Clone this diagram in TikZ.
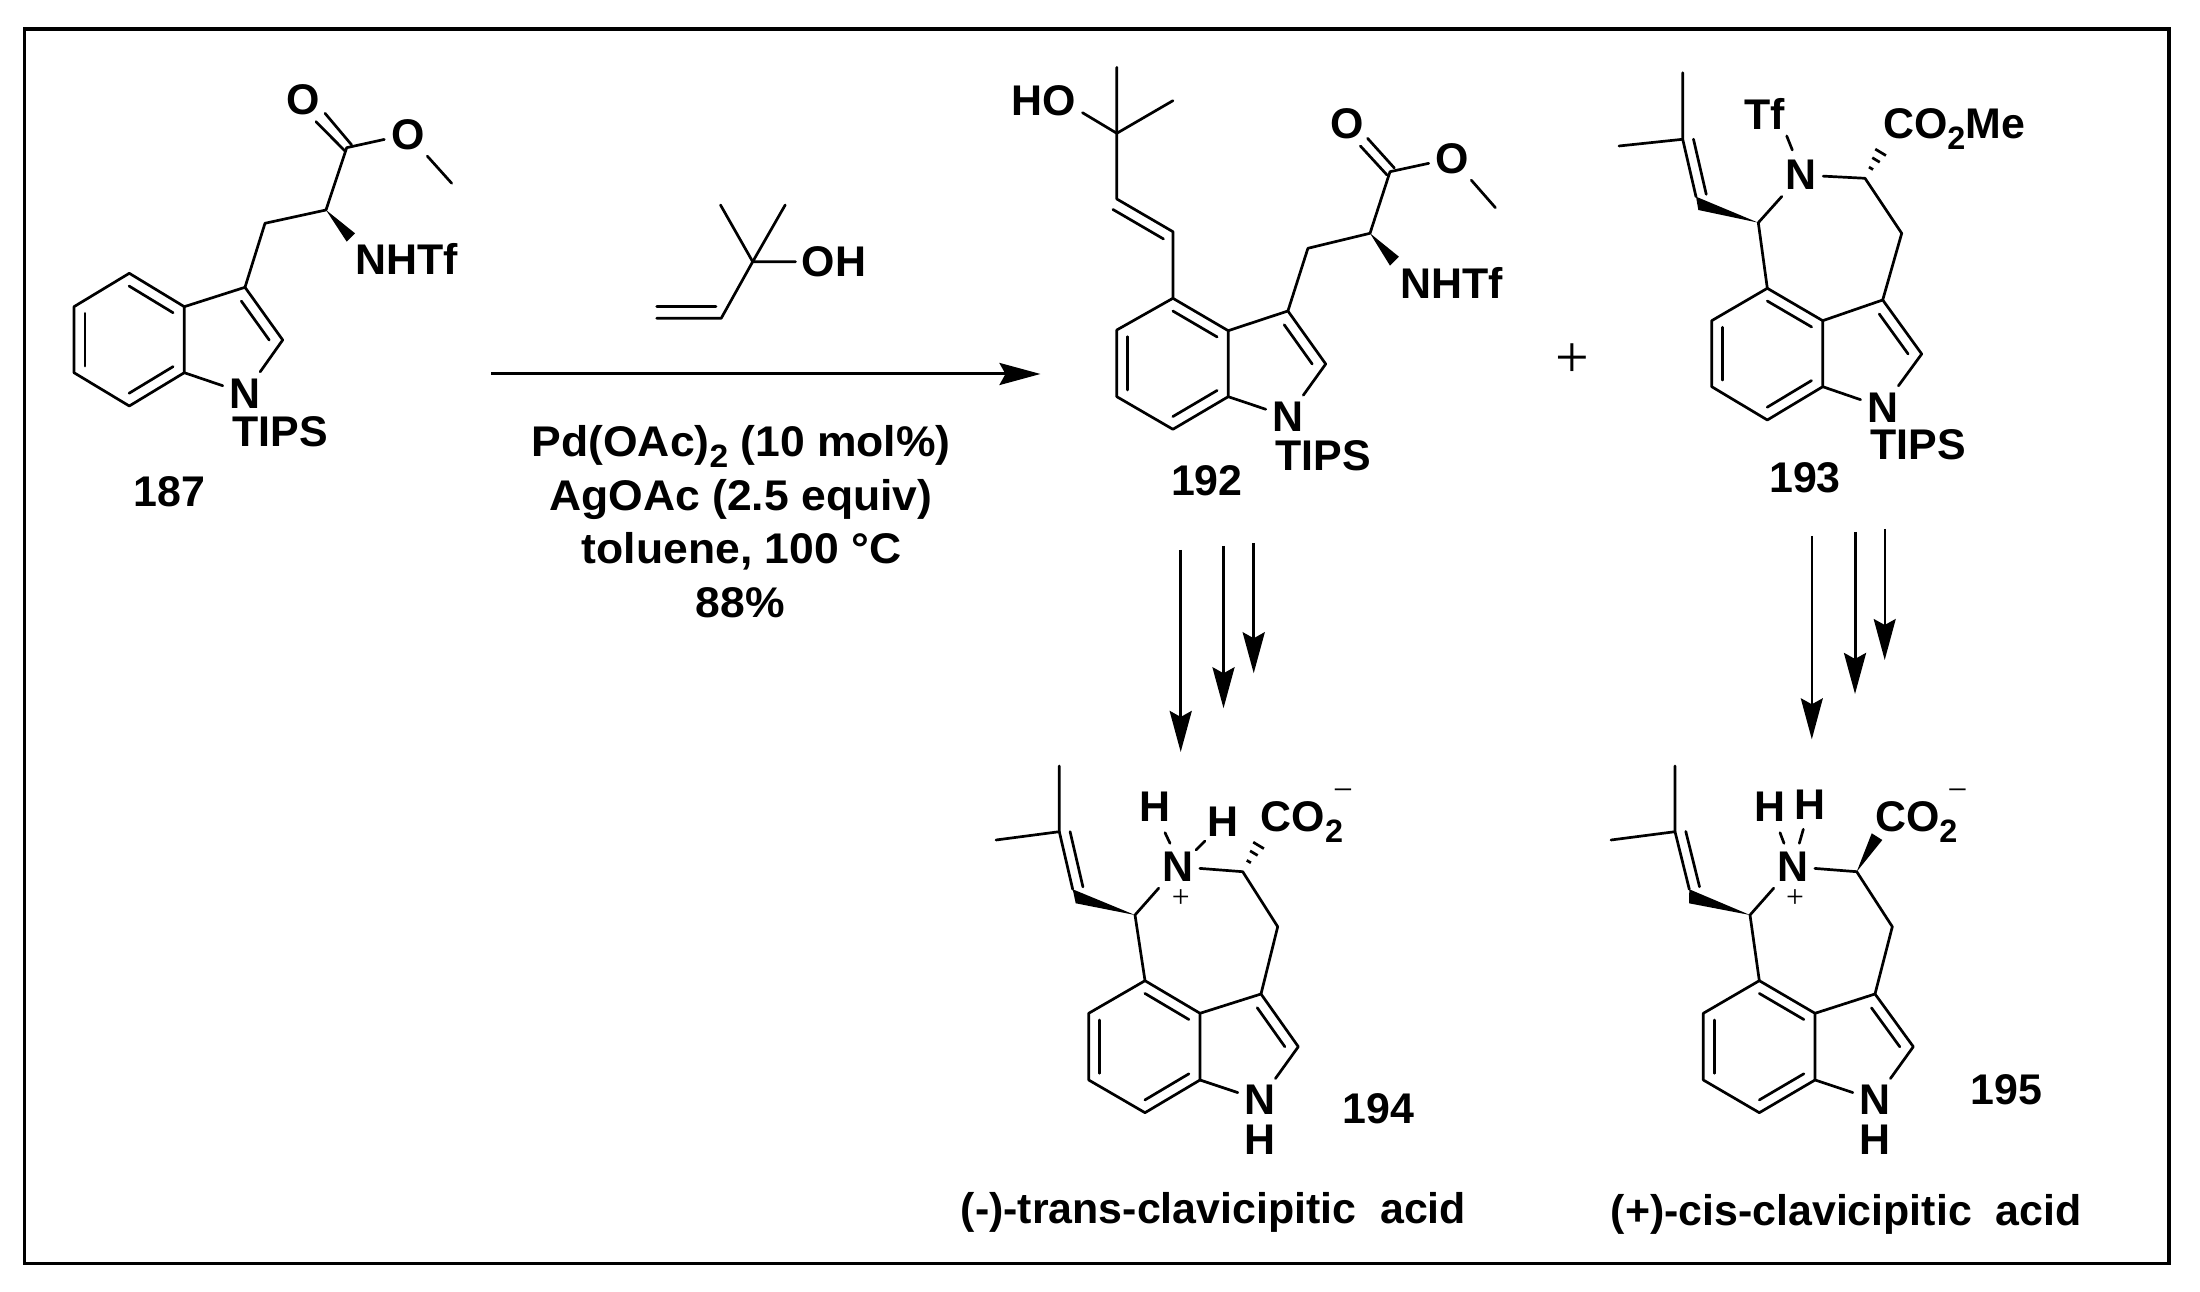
\documentclass[tikz,border=0pt]{standalone}
\usepackage{fontspec}
\setmainfont{Liberation Sans}
\newfontfamily\thinfont{Liberation Serif}
\usetikzlibrary{calc,arrows.meta}
\tikzset{
  bond/.style={line width=.027cm,line cap=round,line join=round},
  frameline/.style={line width=.032cm,line join=miter},
  lbl/.style={font=\bfseries\fontsize{12.2}{14}\selectfont,inner sep=0pt},
  atomlbl/.style={lbl,inner sep=.06cm},
  arr/.style={line width=#1,-{Stealth[length=.41cm,width=.22cm,inset=.06cm]}},
  arr/.default=.03cm,
  plusbig/.style={font=\thinfont\fontsize{17}{17}\selectfont,inner sep=0pt},
  plussmall/.style={font=\thinfont\fontsize{9}{9}\selectfont,inner sep=0pt},
  minussign/.style={font=\thinfont\fontsize{10}{10}\selectfont,inner sep=0pt},
}
\newcommand\sbt[1]{\raisebox{-.26em}{\fontsize{9.2}{9.2}\selectfont #1}}
\newcommand\wider[1]{\scalebox{1.037}[1]{#1}}
% inner line of a double bond: from a to b, offset to the left, trims at both ends
\newcommand\dbline[5]{\draw[bond] ($(#1)!#4!(#2)!#3!90:(#2)$) -- ($(#2)!#5!(#1)!#3!-90:(#1)$);}
\newcommand\indole[1]{%
  \draw[bond] (#1a)--(#1b)--(#1c)--(#1d)--(#1e)--(#1f)--cycle;
  \draw[bond] (#1f)--(#1ct)--(#1cu)--(#1n);
  \draw[bond] (#1e)--(#1n);
  \dbline{#1b}{#1c}{.11cm}{.1}{.1}
  \dbline{#1d}{#1e}{.11cm}{.1}{.1}
  \dbline{#1f}{#1a}{.11cm}{.1}{.1}
  \dbline{#1cu}{#1ct}{.11cm}{.12}{.14}}
\newcommand\hashed[3]{% from #1 towards #2, half width #3
  \foreach \t in {.3,.55,.78,1}{
    \draw[bond,line cap=butt] ($(#1)!\t!(#2)!\t*#3!90:(#2)$) -- ($(#1)!\t!(#2)!\t*#3!-90:(#2)$);}}
\begin{document}
\begin{tikzpicture}[x=.01cm,y=-.01cm]
\useasboundingbox (0,0) rectangle (2200,1292);
\coordinate (fa) at (24.7,29); \coordinate (fb) at (2169,1263.3);
\draw[frameline] (fa) rectangle (fb);

% ---------- 187 ----------
\coordinate (Aa) at (129.3,273.3); \coordinate (Ab) at (74,306.7); \coordinate (Ac) at (74,372.7);
\coordinate (Ad) at (129.3,406); \coordinate (Ae) at (184.3,372.7); \coordinate (Af) at (184.3,306.7);
\coordinate (Act) at (245,287.3); \coordinate (Acu) at (282.7,340);
\node[atomlbl] (An) at (245,393.3) {N};
\indole{A}
\coordinate (Ach) at (265,223.3); \coordinate (Aca) at (326,210); \coordinate (Aco) at (346.7,147.7);
\coordinate (Awa) at (355,233.3); \coordinate (Awb) at (346.7,241.7);
\node[atomlbl] (Aox) at (302.7,99.3) {O};
\node[atomlbl] (Aoy) at (407.7,134.3) {O};
\coordinate (Ame) at (451.7,183.3);
\coordinate (Ada) at (316,121.7); \coordinate (Adb) at (345,151); \coordinate (Adc) at (325,113.3); \coordinate (Add) at (351.7,145);
\draw[bond] (Act)--(Ach)--(Aca)--(Aco)--(Aoy);
\draw[bond] (Aoy)--(Ame);
\draw[bond] (Ada)--(Adb); \draw[bond] (Adc)--(Add);
\fill (Aca)--(Awa)--(Awb)--cycle;
\node[lbl,anchor=west] (Anh) at (355,259.3) {NHTf};
\node[lbl,anchor=west] (Atp) at (231.7,431.5) {TIPS};
\node[lbl] (Anum) at (169.5,492) {187};

% ---------- reagent ----------
\coordinate (Rq) at (752.7,261.7); \coordinate (Rm) at (720.5,205); \coordinate (Rn) at (785.2,205);
\coordinate (Rh) at (721.2,318.3); \coordinate (Rv) at (656.8,318.3);
\coordinate (Rva) at (656.8,306.7); \coordinate (Rvb) at (716,306.7);
\node[lbl,anchor=west,inner sep=.055cm] (Roh) at (795.5,261.7) {OH};
\draw[bond] (Rm)--(Rq)--(Rh)--(Rv);
\draw[bond] (Rn)--(Rq)--(Roh);
\draw[bond] (Rva)--(Rvb);
\coordinate (Xa) at (491,374); \coordinate (Xb) at (1040.5,374);
\draw[arr] (Xa)--(Xb);
\node[lbl,anchor=base] (Ra) at (741.2,456.7) {\wider{Pd(OAc)\sbt{2} (10 mol\%)}};
\node[lbl,anchor=base] (Rb) at (740.8,510.3) {\wider{AgOAc (2.5 equiv)}};
\node[lbl,anchor=base] (Rc) at (741.7,563.5) {\wider{toluene, 100 °C}};
\node[lbl,anchor=base] (Rd) at (740.4,617.7) {\wider{88\%}};

% ---------- 192 ----------
\coordinate (Ba) at (1172.9,298.3); \coordinate (Bb) at (1116.8,330); \coordinate (Bc) at (1116.8,396.7);
\coordinate (Bd) at (1172.9,429.3); \coordinate (Be) at (1228.2,396.7); \coordinate (Bf) at (1228.2,330.7);
\coordinate (Bct) at (1287.9,311); \coordinate (Bcu) at (1325.7,364);
\node[atomlbl] (Bn) at (1287.9,416.7) {N};
\indole{B}
\coordinate (Bch) at (1307.9,248.3); \coordinate (Bca) at (1370,233.3); \coordinate (Bco) at (1390,171.7);
\coordinate (Bwa) at (1398.9,256.7); \coordinate (Bwb) at (1390,265.7);
\node[atomlbl] (Box) at (1347.1,123.3) {O};
\node[atomlbl] (Boy) at (1452.1,158.3) {O};
\coordinate (Bme) at (1495.4,207.7);
\coordinate (Bda) at (1360.4,146); \coordinate (Bdb) at (1387,175); \coordinate (Bdc) at (1367.5,138.3); \coordinate (Bdd) at (1394.3,168);
\draw[bond] (Bct)--(Bch)--(Bca)--(Bco)--(Boy);
\draw[bond] (Boy)--(Bme);
\draw[bond] (Bda)--(Bdb); \draw[bond] (Bdc)--(Bdd);
\fill (Bca)--(Bwa)--(Bwb)--cycle;
\node[lbl,anchor=west] (Bnh) at (1399.6,283) {NHTf};
\node[lbl,anchor=west] (Btp) at (1274.6,456) {TIPS};
\node[lbl] (Bnum) at (1206.8,481) {192};
\coordinate (Bva) at (1172.9,231.7); \coordinate (Bvb) at (1116.8,199); \coordinate (Bq) at (1116.8,133.3);
\coordinate (Bmt) at (1116.8,67.3); \coordinate (Bmr) at (1172.9,100.7); \coordinate (Bho) at (1082.5,112.7);
\node[lbl,anchor=east] (Bhox) at (1076.4,101) {HO};
\draw[bond] (Ba)--(Bva)--(Bvb)--(Bq)--(Bmt);
\draw[bond] (Bmr)--(Bq)--(Bho);
\dbline{Bvb}{Bva}{-.11cm}{.03}{.07}

% ---------- 193 ----------
\coordinate (Ca) at (1767.3,288.3); \coordinate (Cb) at (1711.7,320.7); \coordinate (Cc) at (1711.7,386.7);
\coordinate (Cd) at (1767.3,420); \coordinate (Ce) at (1822.7,386.7); \coordinate (Cf) at (1822.7,320.7);
\coordinate (Cct) at (1882.7,300); \coordinate (Ccu) at (1921.7,354);
\node[atomlbl] (Cn) at (1882.7,407.3) {N};
\indole{C}
\coordinate (Cch) at (1758.3,222.7); \coordinate (Ccr) at (1865,178.3); \coordinate (Ccs) at (1901.7,233.3);
\node[atomlbl] (Cnr) at (1801,175) {N};
\draw[bond] (Ca)--(Cch)--(Cnr);
\draw[bond] (Cnr)--(Ccr)--(Ccs)--(Cct);
\coordinate (Cwa) at (1696,196.7); \coordinate (Cwb) at (1698.3,210);
\fill (Cch)--(Cwa)--(Cwb)--cycle;
\coordinate (Cq) at (1682.7,139.3); \coordinate (Cmt) at (1682.7,72.7); \coordinate (Cml) at (1619,146);
\draw[bond] (Cwa)--(Cq)--(Cmt); \draw[bond] (Cq)--(Cml);
\dbline{Cwa}{Cq}{-.105cm}{.0}{.04}
\node[lbl] (Ctf) at (1765,114) {Tf};
\coordinate (Cta) at (1786.7,136); \coordinate (Ctb) at (1792.3,150);
\draw[bond] (Cta)--(Ctb);
\coordinate (Chs) at (1885,145);
\hashed{Ccr}{Chs}{.08cm}
\node[lbl,anchor=base west] (Cco) at (1882.3,138.3) {CO\sbt{2}Me};
\node[lbl,anchor=west] (Ctp) at (1870,445) {TIPS};
\node[lbl] (Cnum) at (1805,478) {193};
\node[plusbig] (Cplus) at (1572.5,360.5) {+};

% ---------- arrows ----------
\coordinate (Ua) at (1180.7,550); \coordinate (Ub) at (1180.7,752);
\coordinate (Va) at (1223.5,546); \coordinate (Vb) at (1223.5,708.3);
\coordinate (Wa) at (1253.7,543); \coordinate (Wb) at (1253.7,673.3);
\coordinate (Pa) at (1811.8,536); \coordinate (Pb) at (1811.8,739.3);
\coordinate (Qa) at (1855,532); \coordinate (Qb) at (1855,694);
\coordinate (Sa) at (1884.7,529); \coordinate (Sb) at (1884.7,660);
\draw[arr] (Ua)--(Ub); \draw[arr] (Va)--(Vb); \draw[arr] (Wa)--(Wb);
\draw[arr=.02cm] (Pa)--(Pb); \draw[arr] (Qa)--(Qb); \draw[arr=.02cm] (Sa)--(Sb);

% ---------- 194 ----------
\coordinate (Da) at (1145,980.7); \coordinate (Db) at (1088.7,1013.3); \coordinate (Dc) at (1088.7,1080);
\coordinate (Dd) at (1145,1112.7); \coordinate (De) at (1200,1080); \coordinate (Df) at (1200,1013.3);
\coordinate (Dct) at (1261,994); \coordinate (Dcu) at (1298.3,1046.7);
\node[atomlbl] (Dn) at (1260,1100) {N};
\indole{D}
\node[lbl] (Dnh) at (1260,1139.3) {H};
\coordinate (Dch) at (1135,915); \coordinate (Dcr) at (1242.7,871.7); \coordinate (Dcs) at (1277.7,926.7);
\node[lbl] (Dnr) at (1177.7,866.7) {N};
\draw[bond,shorten >=.08cm] (Da)--(Dch)--(Dnr);
\draw[bond,shorten <=.06cm] (Dnr)--(Dcr)--(Dcs)--(Dct);
\coordinate (Dwa) at (1072.7,889.3); \coordinate (Dwb) at (1075.7,903.3);
\fill (Dch)--(Dwa)--(Dwb)--cycle;
\coordinate (Dq) at (1059.3,831.7); \coordinate (Dmt) at (1059.3,766); \coordinate (Dml) at (996,840);
\draw[bond] (Dwa)--(Dq)--(Dmt); \draw[bond] (Dq)--(Dml);
\dbline{Dwa}{Dq}{-.105cm}{.0}{.04}
\node[lbl] (Dha) at (1155,806.7) {H};
\node[lbl] (Dhb) at (1223.3,821.7) {H};
\coordinate (Dga) at (1165,832.7); \coordinate (Dgb) at (1170,843.3);
\coordinate (Dgc) at (1196,850); \coordinate (Dgd) at (1205,841);
\draw[bond] (Dga)--(Dgb); \draw[bond] (Dgc)--(Dgd);
\node[plussmall] (Dpl) at (1180.7,898.5) {+};
\coordinate (Dhs) at (1263,838);
\hashed{Dcr}{Dhs}{.08cm}
\node[lbl,anchor=base west] (Dco) at (1260,831.7) {CO\sbt{2}};
\node[minussign] (Dmi) at (1343,795) {−};
\node[lbl] (Dnum) at (1378.3,1109) {194};
\node[lbl,anchor=base west] (Dname) at (960,1223) {(-)-trans-clavicipitic\ \ acid};

% ---------- 195 ----------
\coordinate (Ea) at (1759.3,980.7); \coordinate (Eb) at (1703.3,1013.3); \coordinate (Ec) at (1703.3,1080);
\coordinate (Ed) at (1759.3,1112.7); \coordinate (Ee) at (1815,1080); \coordinate (Ef) at (1815,1013.3);
\coordinate (Ect) at (1875,994); \coordinate (Ecu) at (1913.3,1046.7);
\node[atomlbl] (En) at (1875,1100) {N};
\indole{E}
\node[lbl] (Enh) at (1875,1139.3) {H};
\coordinate (Ech) at (1750,915); \coordinate (Ecr) at (1856.7,871.7); \coordinate (Ecs) at (1892.3,926.7);
\node[lbl] (Enr) at (1792.7,866.7) {N};
\draw[bond,shorten >=.08cm] (Ea)--(Ech)--(Enr);
\draw[bond,shorten <=.06cm] (Enr)--(Ecr)--(Ecs)--(Ect);
\coordinate (Ewa) at (1689.3,889.3); \coordinate (Ewb) at (1689,903.3);
\fill (Ech)--(Ewa)--(Ewb)--cycle;
\coordinate (Eq) at (1675,831.7); \coordinate (Emt) at (1675,766); \coordinate (Eml) at (1611,840);
\draw[bond] (Ewa)--(Eq)--(Emt); \draw[bond] (Eq)--(Eml);
\dbline{Ewa}{Eq}{-.105cm}{.0}{.04}
\node[lbl] (Eha) at (1770,806.7) {H};
\node[lbl] (Ehb) at (1810,805) {H};
\coordinate (Ega) at (1780,832.7); \coordinate (Egb) at (1784,843.3);
\coordinate (Egc) at (1803.3,829.3); \coordinate (Egd) at (1799.3,843.3);
\draw[bond] (Ega)--(Egb); \draw[bond] (Egc)--(Egd);
\node[plussmall] (Epl) at (1795,898.5) {+};
\coordinate (Ewc) at (1871.7,833.3); \coordinate (Ewd) at (1882.3,840);
\fill (Ecr)--(Ewc)--(Ewd)--cycle;
\node[lbl,anchor=base west] (Eco) at (1874.3,831.7) {CO\sbt{2}};
\node[minussign] (Emi) at (1957.5,795) {−};
\node[lbl] (Enum) at (2006.3,1089.3) {195};
\node[lbl,anchor=base west] (Ename) at (1610,1225) {(+)-cis-clavicipitic\ \ acid};
\end{tikzpicture}
\end{document}
